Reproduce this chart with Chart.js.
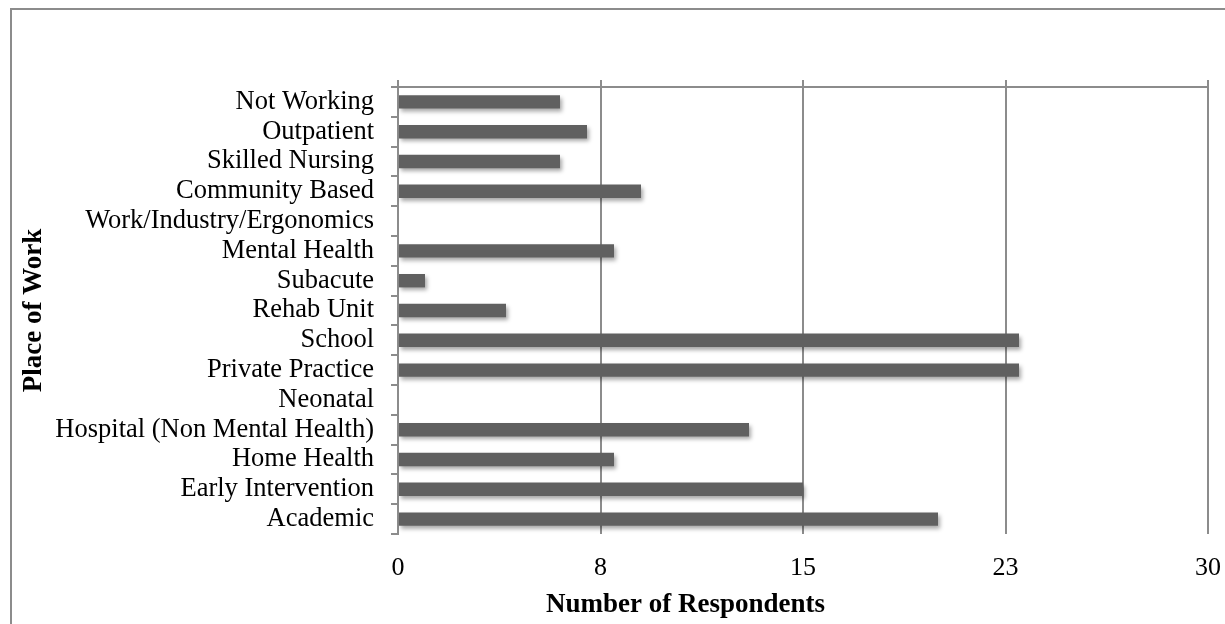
<!DOCTYPE html>
<html>
<head>
<meta charset="utf-8">
<script src="https://cdn.jsdelivr.net/npm/chart.js@4/dist/chart.umd.min.js"></script>
<style>
  html, body { margin: 0; padding: 0; background: #fff; overflow: hidden; }
  #wrap { position: relative; width: 1225px; height: 624px; }
  #frame { position: absolute; left: 10px; top: 8px; width: 1400px; height: 800px;
           border: 2px solid #8c8c8c; box-sizing: border-box; }
  canvas { position: absolute; left: 0; top: 0; }
</style>
</head>
<body>
<div id="wrap">
  <div id="frame"></div>
  <canvas id="myChart" width="1225" height="624"></canvas>
</div>
<script>
var places = ["Not Working", "Outpatient", "Skilled Nursing", "Community Based",
  "Work/Industry/Ergonomics", "Mental Health", "Subacute", "Rehab Unit", "School",
  "Private Practice", "Neonatal", "Hospital (Non Mental Health)", "Home Health",
  "Early Intervention", "Academic"];
var respondents = [6, 7, 6, 9, 0, 8, 1, 4, 23, 23, 0, 13, 8, 15, 20];
var xTicks = [0, 7.5, 15, 22.5, 30];

var gridGrey = '#8c8c8c';
var serif = '"Liberation Serif", "Times New Roman", serif';

// drop shadow under the bars, like the Excel original
var barShadow = {
  id: 'barShadow',
  beforeDatasetsDraw: function(chart) {
    var c = chart.ctx;
    c.save();
    c.shadowColor = 'rgba(0,0,0,0.35)';
    c.shadowBlur = 4;
    c.shadowOffsetX = 2;
    c.shadowOffsetY = 3;
  },
  afterDatasetsDraw: function(chart) {
    chart.ctx.restore();
  }
};

// x title sits left of the plot centre in the original
var xTitle = {
  id: 'xTitle',
  afterDraw: function(chart) {
    var c = chart.ctx, a = chart.chartArea;
    c.save();
    c.font = 'bold 27px ' + serif;
    c.fillStyle = '#000';
    c.textAlign = 'center';
    c.textBaseline = 'middle';
    c.fillText('Number of Respondents', a.left + (a.right - a.left) * 0.355, 605);
    c.restore();
  }
};

function xAfterBuild(scale) {
  scale.ticks = xTicks.map(function(v) { return { value: v }; });
}

var ctx = document.getElementById("myChart");
var myChart = new Chart(ctx, {
  type: 'bar',
  data: {
    labels: places,
    datasets: [{
      data: respondents,
      backgroundColor: '#606060',
      barPercentage: 0.45,
      categoryPercentage: 1
    }]
  },
  plugins: [barShadow, xTitle],
  options: {
    indexAxis: 'y',
    responsive: false,
    animation: false,
    layout: {
      padding: { left: 18, top: 80, right: 17, bottom: 0 }
    },
    plugins: {
      legend: { display: false },
      tooltip: { enabled: false }
    },
    scales: {
      x: {
        position: 'bottom',
        min: 0,
        max: 30,
        afterBuildTicks: xAfterBuild,
        afterFit: function(scale) {
          scale.height = 90;
          scale.paddingLeft = 0;
          scale.paddingRight = 0;
        },
        grid: { color: gridGrey, lineWidth: 2, drawTicks: false },
        border: { display: false },
        ticks: {
          padding: 19,
          color: '#000',
          font: { family: serif, size: 26 },
          callback: function(v) { return Math.round(v); }
        }
      },
      xTop: {
        type: 'linear',
        axis: 'x',
        position: 'top',
        min: 0,
        max: 30,
        afterBuildTicks: xAfterBuild,
        afterFit: function(scale) {
          scale.height = 7;
          scale.paddingLeft = 0;
          scale.paddingRight = 0;
        },
        grid: { color: gridGrey, lineWidth: 2, drawOnChartArea: false, tickLength: 7 },
        border: { display: true, color: gridGrey, width: 2 },
        ticks: { display: false }
      },
      y: {
        afterFit: function(scale) { scale.width = 380; },
        grid: { color: gridGrey, lineWidth: 2, drawOnChartArea: false, tickLength: 7, offset: true },
        border: { display: true, color: gridGrey, width: 2 },
        ticks: {
          autoSkip: false,
          padding: 17,
          color: '#000',
          font: { family: serif, size: 26.5 }
        },
        title: {
          display: true,
          text: 'Place of Work',
          color: '#000',
          padding: { top: 0, bottom: 0 },
          font: { family: serif, size: 27, weight: 'bold' }
        }
      }
    }
  }
});
</script>
</body>
</html>
